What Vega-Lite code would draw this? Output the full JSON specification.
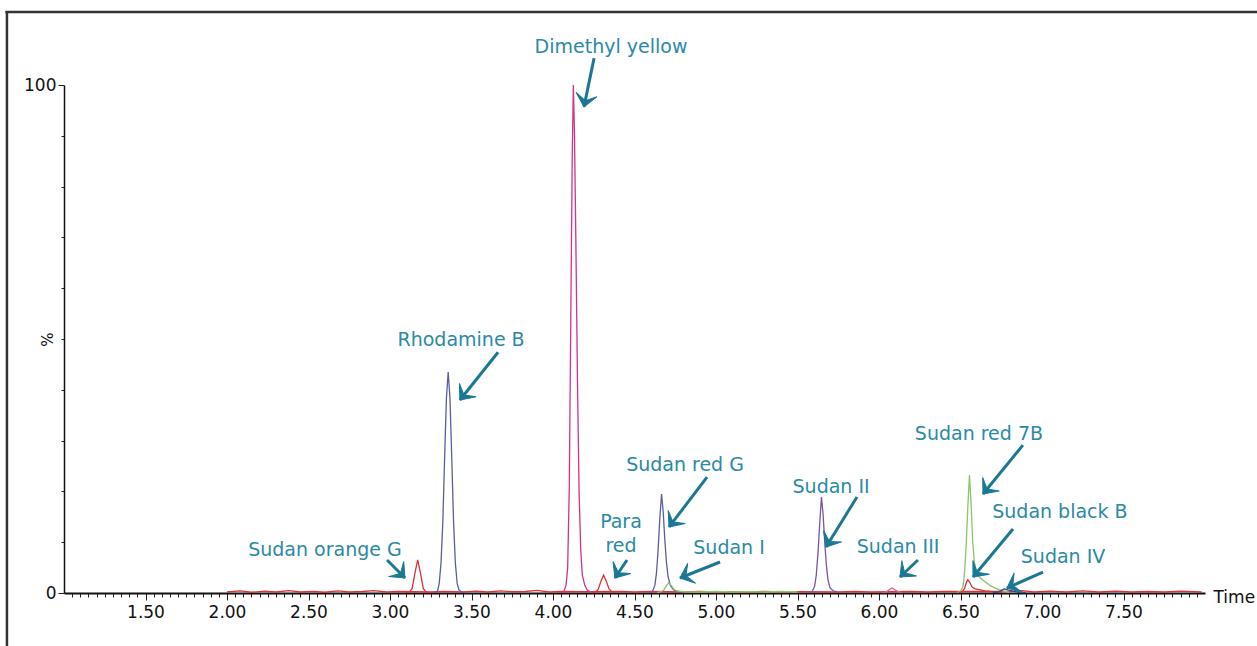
{
  "$schema": "https://vega.github.io/schema/vega-lite/v6.json",
  "autosize": {"type": "none"},
  "padding": {"left": 64, "top": 85, "right": 52, "bottom": 53},
  "width": 1141,
  "height": 508,
  "background": "white",
  "config": {"view": {"stroke": null}, "font": "DejaVu Sans"},
  "datasets": {
    "traces": [
      {"t": 2.00, "v": 0.2, "ch": "red", "pk": "base"},
      {"t": 2.08, "v": 0.4, "ch": "red", "pk": "base"},
      {"t": 2.15, "v": 0.15, "ch": "red", "pk": "base"},
      {"t": 2.23, "v": 0.35, "ch": "red", "pk": "base"},
      {"t": 2.30, "v": 0.2, "ch": "red", "pk": "base"},
      {"t": 2.38, "v": 0.45, "ch": "red", "pk": "base"},
      {"t": 2.45, "v": 0.2, "ch": "red", "pk": "base"},
      {"t": 2.53, "v": 0.3, "ch": "red", "pk": "base"},
      {"t": 2.60, "v": 0.15, "ch": "red", "pk": "base"},
      {"t": 2.68, "v": 0.4, "ch": "red", "pk": "base"},
      {"t": 2.75, "v": 0.2, "ch": "red", "pk": "base"},
      {"t": 2.83, "v": 0.3, "ch": "red", "pk": "base"},
      {"t": 2.90, "v": 0.45, "ch": "red", "pk": "base"},
      {"t": 2.98, "v": 0.2, "ch": "red", "pk": "base"},
      {"t": 3.05, "v": 0.3, "ch": "red", "pk": "base"},
      {"t": 3.25, "v": 0.2, "ch": "red", "pk": "base"},
      {"t": 3.33, "v": 0.3, "ch": "red", "pk": "base"},
      {"t": 3.45, "v": 0.2, "ch": "red", "pk": "base"},
      {"t": 3.53, "v": 0.35, "ch": "red", "pk": "base"},
      {"t": 3.60, "v": 0.2, "ch": "red", "pk": "base"},
      {"t": 3.68, "v": 0.4, "ch": "red", "pk": "base"},
      {"t": 3.75, "v": 0.25, "ch": "red", "pk": "base"},
      {"t": 3.83, "v": 0.3, "ch": "red", "pk": "base"},
      {"t": 3.90, "v": 0.5, "ch": "red", "pk": "base"},
      {"t": 3.98, "v": 0.2, "ch": "red", "pk": "base"},
      {"t": 4.05, "v": 0.3, "ch": "red", "pk": "base"},
      {"t": 4.20, "v": 0.25, "ch": "red", "pk": "base"},
      {"t": 4.42, "v": 0.3, "ch": "red", "pk": "base"},
      {"t": 4.50, "v": 0.2, "ch": "red", "pk": "base"},
      {"t": 4.60, "v": 0.3, "ch": "red", "pk": "base"},
      {"t": 4.80, "v": 0.2, "ch": "red", "pk": "base"},
      {"t": 4.90, "v": 0.3, "ch": "red", "pk": "base"},
      {"t": 5.00, "v": 0.2, "ch": "red", "pk": "base"},
      {"t": 5.10, "v": 0.25, "ch": "red", "pk": "base"},
      {"t": 5.20, "v": 0.2, "ch": "red", "pk": "base"},
      {"t": 5.30, "v": 0.3, "ch": "red", "pk": "base"},
      {"t": 5.40, "v": 0.2, "ch": "red", "pk": "base"},
      {"t": 5.50, "v": 0.25, "ch": "red", "pk": "base"},
      {"t": 5.75, "v": 0.2, "ch": "red", "pk": "base"},
      {"t": 5.85, "v": 0.3, "ch": "red", "pk": "base"},
      {"t": 5.95, "v": 0.2, "ch": "red", "pk": "base"},
      {"t": 6.20, "v": 0.3, "ch": "red", "pk": "base"},
      {"t": 6.30, "v": 0.2, "ch": "red", "pk": "base"},
      {"t": 6.40, "v": 0.3, "ch": "red", "pk": "base"},
      {"t": 6.80, "v": 0.3, "ch": "red", "pk": "base"},
      {"t": 6.88, "v": 0.45, "ch": "red", "pk": "base"},
      {"t": 6.95, "v": 0.2, "ch": "red", "pk": "base"},
      {"t": 7.05, "v": 0.35, "ch": "red", "pk": "base"},
      {"t": 7.15, "v": 0.2, "ch": "red", "pk": "base"},
      {"t": 7.25, "v": 0.4, "ch": "red", "pk": "base"},
      {"t": 7.35, "v": 0.2, "ch": "red", "pk": "base"},
      {"t": 7.45, "v": 0.35, "ch": "red", "pk": "base"},
      {"t": 7.55, "v": 0.2, "ch": "red", "pk": "base"},
      {"t": 7.65, "v": 0.3, "ch": "red", "pk": "base"},
      {"t": 7.75, "v": 0.2, "ch": "red", "pk": "base"},
      {"t": 7.85, "v": 0.35, "ch": "red", "pk": "base"},
      {"t": 7.98, "v": 0.2, "ch": "red", "pk": "base"},

      {"t": 3.10, "v": 0.1, "ch": "red", "pk": "orangeG"},
      {"t": 3.12, "v": 0.2, "ch": "red", "pk": "orangeG"},
      {"t": 3.136, "v": 0.9, "ch": "red", "pk": "orangeG"},
      {"t": 3.153, "v": 3.9, "ch": "red", "pk": "orangeG"},
      {"t": 3.17, "v": 6.5, "ch": "red", "pk": "orangeG"},
      {"t": 3.187, "v": 3.9, "ch": "red", "pk": "orangeG"},
      {"t": 3.204, "v": 0.9, "ch": "red", "pk": "orangeG"},
      {"t": 3.22, "v": 0.2, "ch": "red", "pk": "orangeG"},
      {"t": 3.24, "v": 0.1, "ch": "red", "pk": "orangeG"},

      {"t": 3.27, "v": 0.1, "ch": "slate", "pk": "rhodB"},
      {"t": 3.291, "v": 0.3, "ch": "slate", "pk": "rhodB"},
      {"t": 3.302, "v": 1.9, "ch": "slate", "pk": "rhodB"},
      {"t": 3.313, "v": 5.9, "ch": "slate", "pk": "rhodB"},
      {"t": 3.324, "v": 13.9, "ch": "slate", "pk": "rhodB"},
      {"t": 3.335, "v": 26.5, "ch": "slate", "pk": "rhodB"},
      {"t": 3.346, "v": 38.3, "ch": "slate", "pk": "rhodB"},
      {"t": 3.357, "v": 43.5, "ch": "slate", "pk": "rhodB"},
      {"t": 3.368, "v": 38.3, "ch": "slate", "pk": "rhodB"},
      {"t": 3.379, "v": 26.5, "ch": "slate", "pk": "rhodB"},
      {"t": 3.390, "v": 13.9, "ch": "slate", "pk": "rhodB"},
      {"t": 3.401, "v": 5.9, "ch": "slate", "pk": "rhodB"},
      {"t": 3.412, "v": 1.9, "ch": "slate", "pk": "rhodB"},
      {"t": 3.423, "v": 0.6, "ch": "slate", "pk": "rhodB"},
      {"t": 3.44, "v": 0.2, "ch": "slate", "pk": "rhodB"},
      {"t": 3.46, "v": 0.1, "ch": "slate", "pk": "rhodB"},

      {"t": 4.05, "v": 0.1, "ch": "magenta", "pk": "dimethyl"},
      {"t": 4.065, "v": 0.2, "ch": "magenta", "pk": "dimethyl"},
      {"t": 4.08, "v": 1.5, "ch": "magenta", "pk": "dimethyl"},
      {"t": 4.09, "v": 5, "ch": "magenta", "pk": "dimethyl"},
      {"t": 4.10, "v": 21, "ch": "magenta", "pk": "dimethyl"},
      {"t": 4.11, "v": 57, "ch": "magenta", "pk": "dimethyl"},
      {"t": 4.118, "v": 86, "ch": "magenta", "pk": "dimethyl"},
      {"t": 4.125, "v": 100, "ch": "magenta", "pk": "dimethyl"},
      {"t": 4.132, "v": 90, "ch": "magenta", "pk": "dimethyl"},
      {"t": 4.14, "v": 70, "ch": "magenta", "pk": "dimethyl"},
      {"t": 4.15, "v": 42, "ch": "magenta", "pk": "dimethyl"},
      {"t": 4.16, "v": 20, "ch": "magenta", "pk": "dimethyl"},
      {"t": 4.17, "v": 8.5, "ch": "magenta", "pk": "dimethyl"},
      {"t": 4.18, "v": 3.5, "ch": "magenta", "pk": "dimethyl"},
      {"t": 4.195, "v": 1.5, "ch": "magenta", "pk": "dimethyl"},
      {"t": 4.21, "v": 0.6, "ch": "magenta", "pk": "dimethyl"},
      {"t": 4.23, "v": 0.2, "ch": "magenta", "pk": "dimethyl"},
      {"t": 4.26, "v": 0.1, "ch": "magenta", "pk": "dimethyl"},

      {"t": 4.24, "v": 0.1, "ch": "red", "pk": "para"},
      {"t": 4.26, "v": 0.15, "ch": "red", "pk": "para"},
      {"t": 4.277, "v": 0.7, "ch": "red", "pk": "para"},
      {"t": 4.293, "v": 2.2, "ch": "red", "pk": "para"},
      {"t": 4.31, "v": 3.5, "ch": "red", "pk": "para"},
      {"t": 4.327, "v": 2.3, "ch": "red", "pk": "para"},
      {"t": 4.344, "v": 0.8, "ch": "red", "pk": "para"},
      {"t": 4.36, "v": 0.25, "ch": "red", "pk": "para"},
      {"t": 4.38, "v": 0.1, "ch": "red", "pk": "para"},

      {"t": 4.59, "v": 0.1, "ch": "slate", "pk": "redG"},
      {"t": 4.61, "v": 0.3, "ch": "slate", "pk": "redG"},
      {"t": 4.625, "v": 1.5, "ch": "slate", "pk": "redG"},
      {"t": 4.635, "v": 4, "ch": "slate", "pk": "redG"},
      {"t": 4.645, "v": 8.5, "ch": "slate", "pk": "redG"},
      {"t": 4.655, "v": 14.5, "ch": "slate", "pk": "redG"},
      {"t": 4.666, "v": 19.5, "ch": "slate", "pk": "redG"},
      {"t": 4.676, "v": 16, "ch": "slate", "pk": "redG"},
      {"t": 4.686, "v": 10.5, "ch": "slate", "pk": "redG"},
      {"t": 4.696, "v": 6, "ch": "slate", "pk": "redG"},
      {"t": 4.706, "v": 3.2, "ch": "slate", "pk": "redG"},
      {"t": 4.72, "v": 1.5, "ch": "slate", "pk": "redG"},
      {"t": 4.74, "v": 0.6, "ch": "slate", "pk": "redG"},
      {"t": 4.77, "v": 0.25, "ch": "slate", "pk": "redG"},
      {"t": 4.80, "v": 0.1, "ch": "slate", "pk": "redG"},

      {"t": 4.64, "v": 0.1, "ch": "green", "pk": "sudanI"},
      {"t": 4.66, "v": 0.2, "ch": "green", "pk": "sudanI"},
      {"t": 4.68, "v": 0.6, "ch": "green", "pk": "sudanI"},
      {"t": 4.695, "v": 1.4, "ch": "green", "pk": "sudanI"},
      {"t": 4.71, "v": 2.0, "ch": "green", "pk": "sudanI"},
      {"t": 4.725, "v": 1.5, "ch": "green", "pk": "sudanI"},
      {"t": 4.74, "v": 0.8, "ch": "green", "pk": "sudanI"},
      {"t": 4.76, "v": 0.4, "ch": "green", "pk": "sudanI"},
      {"t": 4.80, "v": 0.25, "ch": "green", "pk": "sudanI"},
      {"t": 4.90, "v": 0.2, "ch": "green", "pk": "sudanI"},
      {"t": 5.00, "v": 0.3, "ch": "green", "pk": "sudanI"},
      {"t": 5.10, "v": 0.2, "ch": "green", "pk": "sudanI"},
      {"t": 5.20, "v": 0.25, "ch": "green", "pk": "sudanI"},
      {"t": 5.30, "v": 0.2, "ch": "green", "pk": "sudanI"},
      {"t": 5.40, "v": 0.3, "ch": "green", "pk": "sudanI"},
      {"t": 5.50, "v": 0.2, "ch": "green", "pk": "sudanI"},

      {"t": 5.57, "v": 0.1, "ch": "purple", "pk": "sudanII"},
      {"t": 5.59, "v": 0.3, "ch": "purple", "pk": "sudanII"},
      {"t": 5.605, "v": 1.3, "ch": "purple", "pk": "sudanII"},
      {"t": 5.615, "v": 3.5, "ch": "purple", "pk": "sudanII"},
      {"t": 5.625, "v": 7.5, "ch": "purple", "pk": "sudanII"},
      {"t": 5.636, "v": 13.5, "ch": "purple", "pk": "sudanII"},
      {"t": 5.647, "v": 18.9, "ch": "purple", "pk": "sudanII"},
      {"t": 5.657, "v": 15.5, "ch": "purple", "pk": "sudanII"},
      {"t": 5.667, "v": 10, "ch": "purple", "pk": "sudanII"},
      {"t": 5.677, "v": 5.5, "ch": "purple", "pk": "sudanII"},
      {"t": 5.687, "v": 2.6, "ch": "purple", "pk": "sudanII"},
      {"t": 5.70, "v": 1.0, "ch": "purple", "pk": "sudanII"},
      {"t": 5.72, "v": 0.4, "ch": "purple", "pk": "sudanII"},
      {"t": 5.75, "v": 0.15, "ch": "purple", "pk": "sudanII"},

      {"t": 6.02, "v": 0.1, "ch": "pink", "pk": "sudanIII"},
      {"t": 6.045, "v": 0.2, "ch": "pink", "pk": "sudanIII"},
      {"t": 6.06, "v": 0.6, "ch": "pink", "pk": "sudanIII"},
      {"t": 6.08, "v": 1.0, "ch": "pink", "pk": "sudanIII"},
      {"t": 6.10, "v": 0.6, "ch": "pink", "pk": "sudanIII"},
      {"t": 6.12, "v": 0.2, "ch": "pink", "pk": "sudanIII"},
      {"t": 6.14, "v": 0.1, "ch": "pink", "pk": "sudanIII"},

      {"t": 6.48, "v": 0.1, "ch": "green", "pk": "red7B"},
      {"t": 6.50, "v": 0.3, "ch": "green", "pk": "red7B"},
      {"t": 6.515, "v": 1.2, "ch": "green", "pk": "red7B"},
      {"t": 6.525, "v": 4, "ch": "green", "pk": "red7B"},
      {"t": 6.535, "v": 9.5, "ch": "green", "pk": "red7B"},
      {"t": 6.545, "v": 17, "ch": "green", "pk": "red7B"},
      {"t": 6.555, "v": 23.2, "ch": "green", "pk": "red7B"},
      {"t": 6.565, "v": 17.5, "ch": "green", "pk": "red7B"},
      {"t": 6.575, "v": 10, "ch": "green", "pk": "red7B"},
      {"t": 6.585, "v": 6, "ch": "green", "pk": "red7B"},
      {"t": 6.60, "v": 3.9, "ch": "green", "pk": "red7B"},
      {"t": 6.62, "v": 3.0, "ch": "green", "pk": "red7B"},
      {"t": 6.65, "v": 2.2, "ch": "green", "pk": "red7B"},
      {"t": 6.68, "v": 1.5, "ch": "green", "pk": "red7B"},
      {"t": 6.71, "v": 1.0, "ch": "green", "pk": "red7B"},
      {"t": 6.74, "v": 0.6, "ch": "green", "pk": "red7B"},
      {"t": 6.77, "v": 0.3, "ch": "green", "pk": "red7B"},
      {"t": 6.80, "v": 0.15, "ch": "green", "pk": "red7B"},

      {"t": 6.49, "v": 0.1, "ch": "red", "pk": "blackB"},
      {"t": 6.51, "v": 0.2, "ch": "red", "pk": "blackB"},
      {"t": 6.525, "v": 0.9, "ch": "red", "pk": "blackB"},
      {"t": 6.535, "v": 2.0, "ch": "red", "pk": "blackB"},
      {"t": 6.545, "v": 2.6, "ch": "red", "pk": "blackB"},
      {"t": 6.555, "v": 2.2, "ch": "red", "pk": "blackB"},
      {"t": 6.57, "v": 1.2, "ch": "red", "pk": "blackB"},
      {"t": 6.59, "v": 0.8, "ch": "red", "pk": "blackB"},
      {"t": 6.62, "v": 0.6, "ch": "red", "pk": "blackB"},
      {"t": 6.65, "v": 0.4, "ch": "red", "pk": "blackB"},
      {"t": 6.70, "v": 0.25, "ch": "red", "pk": "blackB"},
      {"t": 6.75, "v": 0.15, "ch": "red", "pk": "blackB"},

      {"t": 6.70, "v": 0.1, "ch": "navy", "pk": "sudanIV"},
      {"t": 6.73, "v": 0.2, "ch": "navy", "pk": "sudanIV"},
      {"t": 6.75, "v": 0.5, "ch": "navy", "pk": "sudanIV"},
      {"t": 6.77, "v": 0.8, "ch": "navy", "pk": "sudanIV"},
      {"t": 6.79, "v": 0.6, "ch": "navy", "pk": "sudanIV"},
      {"t": 6.82, "v": 0.35, "ch": "navy", "pk": "sudanIV"},
      {"t": 6.86, "v": 0.15, "ch": "navy", "pk": "sudanIV"},
      {"t": 6.90, "v": 0.1, "ch": "navy", "pk": "sudanIV"}
    ],
    "labels": [
      {"name": "Dimethyl yellow", "t": 4.356, "v": 107.5},
      {"name": "Rhodamine B", "t": 3.436, "v": 49.8},
      {"name": "Sudan orange G", "t": 2.601, "v": 8.5},
      {"name": "Para\nred", "t": 4.417, "v": 14.0},
      {"name": "Sudan red G", "t": 4.81, "v": 25.2},
      {"name": "Sudan I", "t": 5.08, "v": 8.86},
      {"name": "Sudan II", "t": 5.706, "v": 20.9},
      {"name": "Sudan III", "t": 6.117, "v": 9.06},
      {"name": "Sudan red 7B", "t": 6.613, "v": 31.3},
      {"name": "Sudan black B", "t": 7.11, "v": 15.9},
      {"name": "Sudan IV", "t": 7.129, "v": 7.09}
    ],
    "arrows": [
      {"name": "Dimethyl yellow", "t1": 4.252, "v1": 105.3, "t2": 4.19, "v2": 95.7},
      {"name": "Rhodamine B", "t1": 3.663, "v1": 47.4, "t2": 3.429, "v2": 38.0},
      {"name": "Sudan orange G", "t1": 2.982, "v1": 6.5, "t2": 3.092, "v2": 2.95},
      {"name": "Para red", "t1": 4.454, "v1": 6.5, "t2": 4.38, "v2": 2.95},
      {"name": "Sudan red G", "t1": 4.945, "v1": 22.8, "t2": 4.712, "v2": 13.0},
      {"name": "Sudan I", "t1": 5.025, "v1": 6.1, "t2": 4.779, "v2": 2.95},
      {"name": "Sudan II", "t1": 5.865, "v1": 18.9, "t2": 5.675, "v2": 9.06},
      {"name": "Sudan III", "t1": 6.239, "v1": 6.5, "t2": 6.129, "v2": 3.15},
      {"name": "Sudan red 7B", "t1": 6.883, "v1": 29.1, "t2": 6.638, "v2": 19.5},
      {"name": "Sudan black B", "t1": 6.822, "v1": 12.6, "t2": 6.577, "v2": 3.15},
      {"name": "Sudan IV", "t1": 7.006, "v1": 4.13, "t2": 6.785, "v2": 0.98}
    ]
  },
  "resolve": {"scale": {"x": "shared", "y": "shared"}, "axis": {"x": "independent"}},
  "layer": [
    {
      "data": {"name": "traces"},
      "mark": {"type": "line", "opacity": 0},
      "encoding": {
        "x": {
          "field": "t", "type": "quantitative",
          "scale": {"domain": [1, 8], "nice": false, "zero": false},
          "axis": {
            "orient": "bottom",
            "values": [1.05,1.1,1.15,1.2,1.25,1.3,1.35,1.4,1.45,1.5,1.55,1.6,1.65,1.7,1.75,1.8,1.85,1.9,1.95,2.0,2.05,2.1,2.15,2.2,2.25,2.3,2.35,2.4,2.45,2.5,2.55,2.6,2.65,2.7,2.75,2.8,2.85,2.9,2.95,3.0,3.05,3.1,3.15,3.2,3.25,3.3,3.35,3.4,3.45,3.5,3.55,3.6,3.65,3.7,3.75,3.8,3.85,3.9,3.95,4.0,4.05,4.1,4.15,4.2,4.25,4.3,4.35,4.4,4.45,4.5,4.55,4.6,4.65,4.7,4.75,4.8,4.85,4.9,4.95,5.0,5.05,5.1,5.15,5.2,5.25,5.3,5.35,5.4,5.45,5.5,5.55,5.6,5.65,5.7,5.75,5.8,5.85,5.9,5.95,6.0,6.05,6.1,6.15,6.2,6.25,6.3,6.35,6.4,6.45,6.5,6.55,6.6,6.65,6.7,6.75,6.8,6.85,6.9,6.95,7.0,7.05,7.1,7.15,7.2,7.25,7.3,7.35,7.4,7.45,7.5,7.55,7.6,7.65,7.7,7.75,7.8,7.85,7.9,7.95],
            "labels": false,
            "domain": false,
            "grid": false,
            "tickColor": "#222222",
            "tickWidth": 1,
            "tickSize": 4,
            "title": null
          }
        },
        "y": {"field": "v", "type": "quantitative"}
      }
    },
    {
      "layer": [
        {
          "data": {"values": [{}]},
          "mark": {"type": "rule", "color": "#333333", "strokeWidth": 2.5},
          "encoding": {"x": {"datum": 0.65}, "y": {"datum": -11}, "y2": {"datum": 114.37}}
        },
        {
          "data": {"values": [{}]},
          "mark": {"type": "rule", "color": "#333333", "strokeWidth": 2.5},
          "encoding": {"y": {"datum": 114.37}, "x": {"datum": 0.64}, "x2": {"datum": 8.4}}
        },
        {
          "data": {"name": "traces"},
          "mark": {"type": "line", "strokeWidth": 1.3, "interpolate": "linear"},
          "encoding": {
            "x": {
              "field": "t", "type": "quantitative",
              "scale": {"domain": [1, 8], "nice": false, "zero": false},
              "axis": {
                "orient": "bottom",
                "values": [1.5, 2, 2.5, 3, 3.5, 4, 4.5, 5, 5.5, 6, 6.5, 7, 7.5],
                "format": ".2f",
                "labelOverlap": false,
                "labelFlush": false,
                "labelBound": false,
                "labelFont": "DejaVu Sans",
                "labelFontSize": 17,
                "labelColor": "#111111",
                "labelPadding": 4,
                "tickColor": "#222222",
                "tickWidth": 1,
                "tickSize": 7,
                "domainColor": "#111111",
                "domainWidth": 2,
                "grid": false,
                "title": "Time",
                "titleFont": "DejaVu Sans",
                "titleFontSize": 17,
                "titleFontWeight": "normal",
                "titleColor": "#111111",
                "titleAlign": "left",
                "titleBaseline": "middle",
                "titleX": 1149,
                "titleY": 4
              }
            },
            "y": {
              "field": "v", "type": "quantitative",
              "scale": {"domain": [0, 100], "nice": false},
              "axis": {
                "values": [0, 10, 20, 30, 40, 50, 60, 70, 80, 90, 100],
                "labelExpr": "datum.value == 0 || datum.value == 100 ? datum.label : ''",
                "labelFont": "DejaVu Sans",
                "labelFontSize": 17,
                "labelColor": "#111111",
                "labelPadding": 2,
                "tickColor": "#222222",
                "tickSize": {"condition": {"test": "datum.value == 0 || datum.value == 100", "value": 6}, "value": 3},
                "domainColor": "#111111",
                "domainWidth": 1.5,
                "grid": false,
                "title": "%",
                "titleFont": "DejaVu Sans",
                "titleFontSize": 15,
                "titleFontWeight": "normal",
                "titleColor": "#111111",
                "titleAngle": -90,
                "titleAlign": "center",
                "titleBaseline": "middle",
                "titleX": -17,
                "titleY": 254
              }
            },
            "color": {
              "field": "ch", "type": "nominal", "legend": null,
              "scale": {
                "domain": ["red", "slate", "magenta", "green", "purple", "pink", "navy"],
                "range": ["#d8333b", "#5a5f9c", "#d1338a", "#8dc46c", "#7656a5", "#e35a92", "#35468a"]
              }
            },
            "detail": {"field": "pk", "type": "nominal"}
          }
        },
        {
          "data": {"name": "arrows"},
          "mark": {"type": "rule", "color": "#1b7895", "strokeWidth": 3, "strokeCap": "butt"},
          "encoding": {
            "x": {"field": "t1", "type": "quantitative"},
            "y": {"field": "v1", "type": "quantitative"},
            "x2": {"field": "t2"},
            "y2": {"field": "v2"}
          }
        },
        {
          "data": {"name": "arrows"},
          "transform": [
            {"calculate": "atan2(-(datum.v2 - datum.v1) * 5.08, (datum.t2 - datum.t1) * 163) * 180 / PI", "as": "ang"}
          ],
          "mark": {
            "type": "point",
            "shape": "M0,0L-1,-0.85L-0.5,0L-1,0.85Z",
            "filled": true,
            "color": "#1b7895",
            "stroke": "#1b7895",
            "strokeWidth": 1,
            "strokeJoin": "miter",
            "size": 640,
            "opacity": 1
          },
          "encoding": {
            "x": {"field": "t2", "type": "quantitative"},
            "y": {"field": "v2", "type": "quantitative"},
            "angle": {"field": "ang", "type": "quantitative", "scale": null}
          }
        },
        {
          "data": {"name": "labels"},
          "mark": {
            "type": "text",
            "font": "DejaVu Sans",
            "fontSize": 19,
            "color": "#2a8aa6",
            "align": "center",
            "baseline": "middle",
            "lineBreak": "\n",
            "lineHeight": 24
          },
          "encoding": {
            "x": {"field": "t", "type": "quantitative"},
            "y": {"field": "v", "type": "quantitative"},
            "text": {"field": "name"}
          }
        }
      ]
    }
  ]
}
